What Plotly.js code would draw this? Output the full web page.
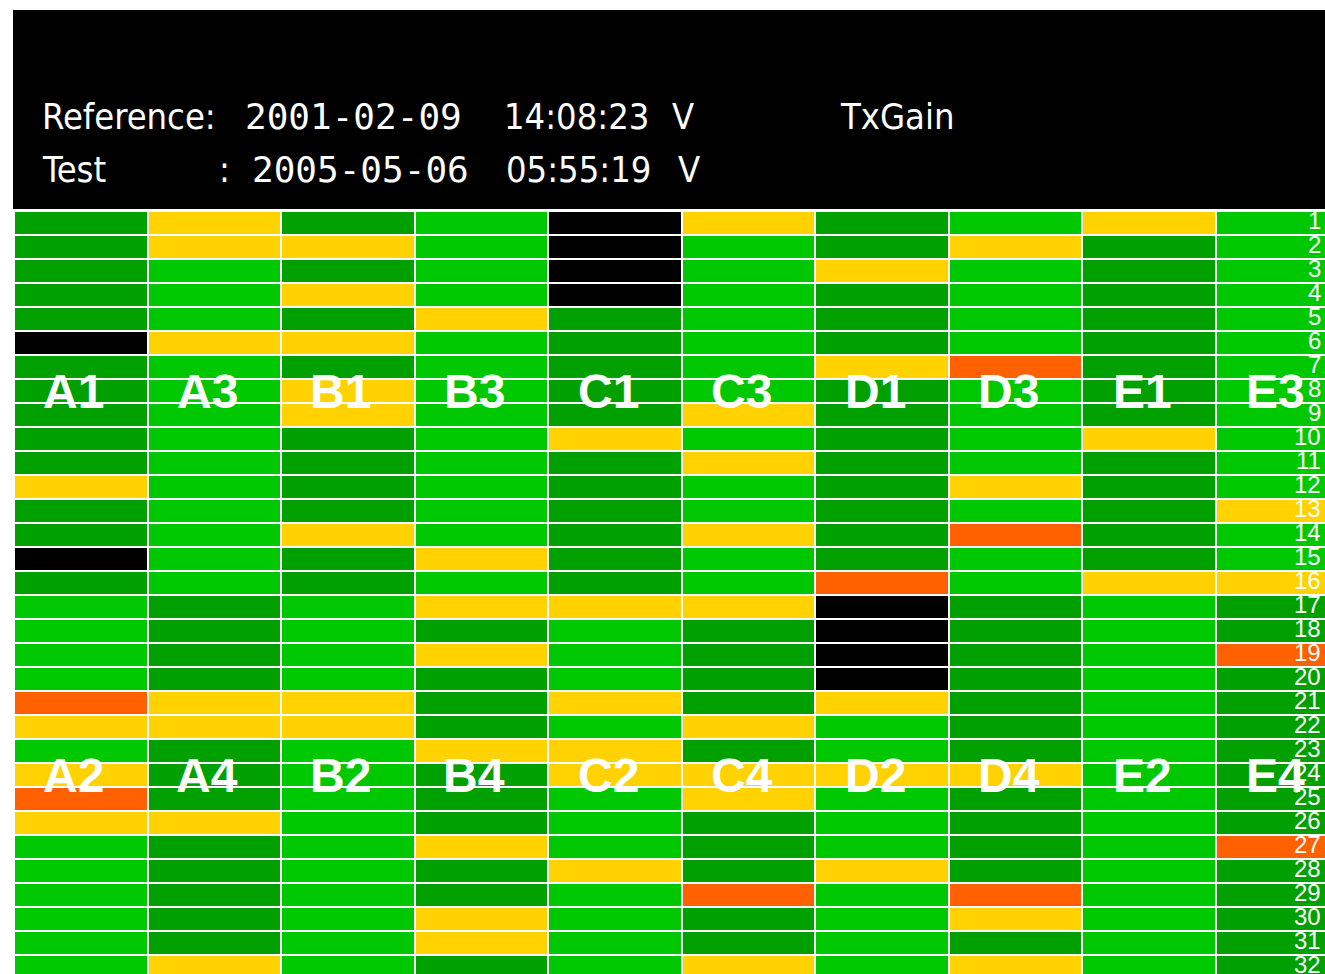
<!DOCTYPE html>
<html>
<head>
<meta charset="utf-8">
<script src="https://cdn.plot.ly/plotly-3.0.1.min.js"></script>
<style>
html,body{margin:0;padding:0;background:#ffffff;overflow:hidden}
#chart{width:1325px;height:974px}
</style>
</head>
<body>
<div id="chart"></div>
<script>
// ---- header texts ----
const chartTitle = "TxGain";
const referenceLabel = "Reference:";
const referenceStamp = ["2001-02-09", "14:08:23", "V"];
const testLabel = "Test";
const testStamp = ["2005-05-06", "05:55:19", "V"];

// ---- grid columns: upper module (rows 1-16) and lower module (rows 17-32) ----
const topModules    = ["A1","A3","B1","B3","C1","C3","D1","D3","E1","E3"];
const bottomModules = ["A2","A4","B2","B4","C2","C4","D2","D4","E2","E4"];
const rowLabels = ["1","2","3","4","5","6","7","8","9","10","11","12","13","14","15","16",
                   "17","18","19","20","21","22","23","24","25","26","27","28","29","30","31","32"];

// ---- status per channel (K = no data, D = dark green, L = light green, Y = yellow, R = orange) ----
const A1 = ["D","D","D","D","D","K","D","D","D","D","D","Y","D","D","K","D"];
const A2 = ["L","L","L","L","R","Y","L","Y","R","Y","L","L","L","L","L","L"];
const A3 = ["Y","Y","L","L","L","Y","L","L","L","L","L","L","L","L","L","L"];
const A4 = ["D","D","D","D","Y","Y","D","D","D","Y","D","D","D","D","D","Y"];
const B1 = ["D","Y","D","Y","D","Y","D","Y","Y","D","D","D","D","Y","D","D"];
const B2 = ["L","L","L","L","Y","Y","L","L","L","L","L","L","L","L","L","L"];
const B3 = ["L","L","L","L","Y","L","L","L","L","L","L","L","L","L","Y","L"];
const B4 = ["Y","D","Y","D","D","D","Y","D","D","D","Y","D","D","Y","Y","D"];
const C1 = ["K","K","K","K","D","D","D","D","D","Y","D","D","D","D","D","D"];
const C2 = ["Y","L","L","L","Y","L","Y","Y","L","L","L","Y","L","L","L","L"];
const C3 = ["Y","L","L","L","L","L","L","L","Y","L","Y","L","L","Y","L","L"];
const C4 = ["Y","D","D","D","D","Y","D","Y","Y","D","D","D","R","D","D","Y"];
const D1 = ["D","D","Y","D","D","D","Y","D","D","D","D","D","D","D","D","R"];
const D2 = ["K","K","K","K","Y","L","L","Y","L","L","L","Y","L","L","L","L"];
const D3 = ["L","Y","L","L","L","L","R","L","L","L","L","Y","L","R","L","L"];
const D4 = ["D","D","D","D","D","D","D","Y","D","D","D","D","R","Y","D","Y"];
const E1 = ["Y","D","D","D","D","D","D","D","D","Y","D","D","D","D","D","Y"];
const E2 = ["L","L","L","L","L","L","L","L","L","L","L","L","L","L","L","L"];
const E3 = ["L","L","L","L","L","L","L","L","L","L","L","L","Y","L","L","Y"];
const E4 = ["D","D","R","D","D","D","D","D","D","D","R","D","D","D","D","D"];

const modules = {A1,A2,A3,A4,B1,B2,B3,B4,C1,C2,C3,C4,D1,D2,D3,D4,E1,E2,E3,E4};
const statusLevel = {K:0, D:1, L:2, Y:3, R:4};

// ---- build heatmap matrix ----
const xIdx = topModules.map((_, i) => i);
const yIdx = rowLabels.map((_, i) => i + 1);
const z = yIdx.map(r => topModules.map((t, c) => {
  const code = r <= 16 ? modules[t][r - 1] : modules[bottomModules[c]][r - 17];
  return statusLevel[code];
}));

const K = "#000000", DG = "#00a000", LG = "#00c800", YE = "#ffd200", OR = "#ff6000";
const colorscale = [
  [0, K], [0.125, K], [0.125, DG], [0.375, DG], [0.375, LG],
  [0.625, LG], [0.625, YE], [0.875, YE], [0.875, OR], [1, OR]
];

// ---- geometry helpers (pixel -> paper) ----
const W = 1325, H = 974, ML = 14, MT = 211;
const PW = W - ML, PH = H - MT;
const px = x => (x - ML) / PW;
const py = y => (H - y) / PH;
const colW = 133.56, rowH = 24;

const headerFont = {family: "DejaVu Sans Condensed, DejaVu Sans, sans-serif", stretch: "condensed", size: 36, color: "#ffffff"};
const dateFont = {family: "DejaVu Sans Mono, monospace", size: 36, color: "#ffffff"};
const labelFont = {family: "Liberation Sans, Arial, sans-serif", size: 48, color: "#ffffff", weight: "bold"};
const rowFont = {family: "Liberation Sans, Arial, sans-serif", size: 24, color: "#ffffff"};

const hdr = (text, x, y, font) => ({text, x: px(x), y: py(y), xref: "paper", yref: "paper",
  xanchor: "left", yanchor: "middle", showarrow: false, font: font || headerFont});

const stampX = [243, 502, 670];
const testX = [250, 504, 676];
const annotations = [
  hdr(referenceLabel, 40, 117),
  hdr(testLabel, 40, 170),
  hdr(":", 217, 170),
  hdr(chartTitle, 838, 117)
];
referenceStamp.forEach((s, i) => annotations.push(hdr(s, stampX[i], 117, i === 0 ? dateFont : headerFont)));
testStamp.forEach((s, i) => annotations.push(hdr(s, testX[i], 170, i === 0 ? dateFont : headerFont)));

topModules.forEach((m, i) => annotations.push({
  text: m, x: i, y: 8, xref: "x", yref: "y", xshift: -7, showarrow: false, font: labelFont
}));
bottomModules.forEach((m, i) => annotations.push({
  text: m, x: i, y: 24, xref: "x", yref: "y", xshift: -7, showarrow: false, font: labelFont
}));
rowLabels.forEach((t, i) => annotations.push({
  text: t, x: 1, y: yIdx[i], xref: "paper", yref: "y", xanchor: "right", yanchor: "middle",
  xshift: -2, yshift: 3, showarrow: false, font: rowFont
}));

const trace = {
  type: "heatmap",
  x: xIdx, y: yIdx, z: z,
  zmin: 0, zmax: 4,
  colorscale: colorscale,
  showscale: false,
  xgap: 2, ygap: 2,
  hoverinfo: "skip"
};

const layout = {
  width: W, height: H,
  margin: {l: ML, r: 0, t: MT, b: 0, pad: 0},
  paper_bgcolor: "#ffffff",
  plot_bgcolor: "#ffffff",
  showlegend: false,
  xaxis: {
    range: [-0.5, -0.5 + PW / colW],
    showgrid: false, zeroline: false, showticklabels: false, ticks: "", fixedrange: true
  },
  yaxis: {
    range: [0.5 + PH / rowH, 0.5],
    showgrid: false, zeroline: false, showticklabels: false, ticks: "", fixedrange: true
  },
  shapes: [{
    type: "rect", xref: "paper", yref: "paper",
    x0: px(13), x1: px(1330), y0: py(209), y1: py(10),
    fillcolor: "#000000", line: {width: 0}, layer: "above"
  }],
  annotations: annotations
};

Plotly.newPlot("chart", [trace], layout, {staticPlot: true, displayModeBar: false});
</script>
</body>
</html>
